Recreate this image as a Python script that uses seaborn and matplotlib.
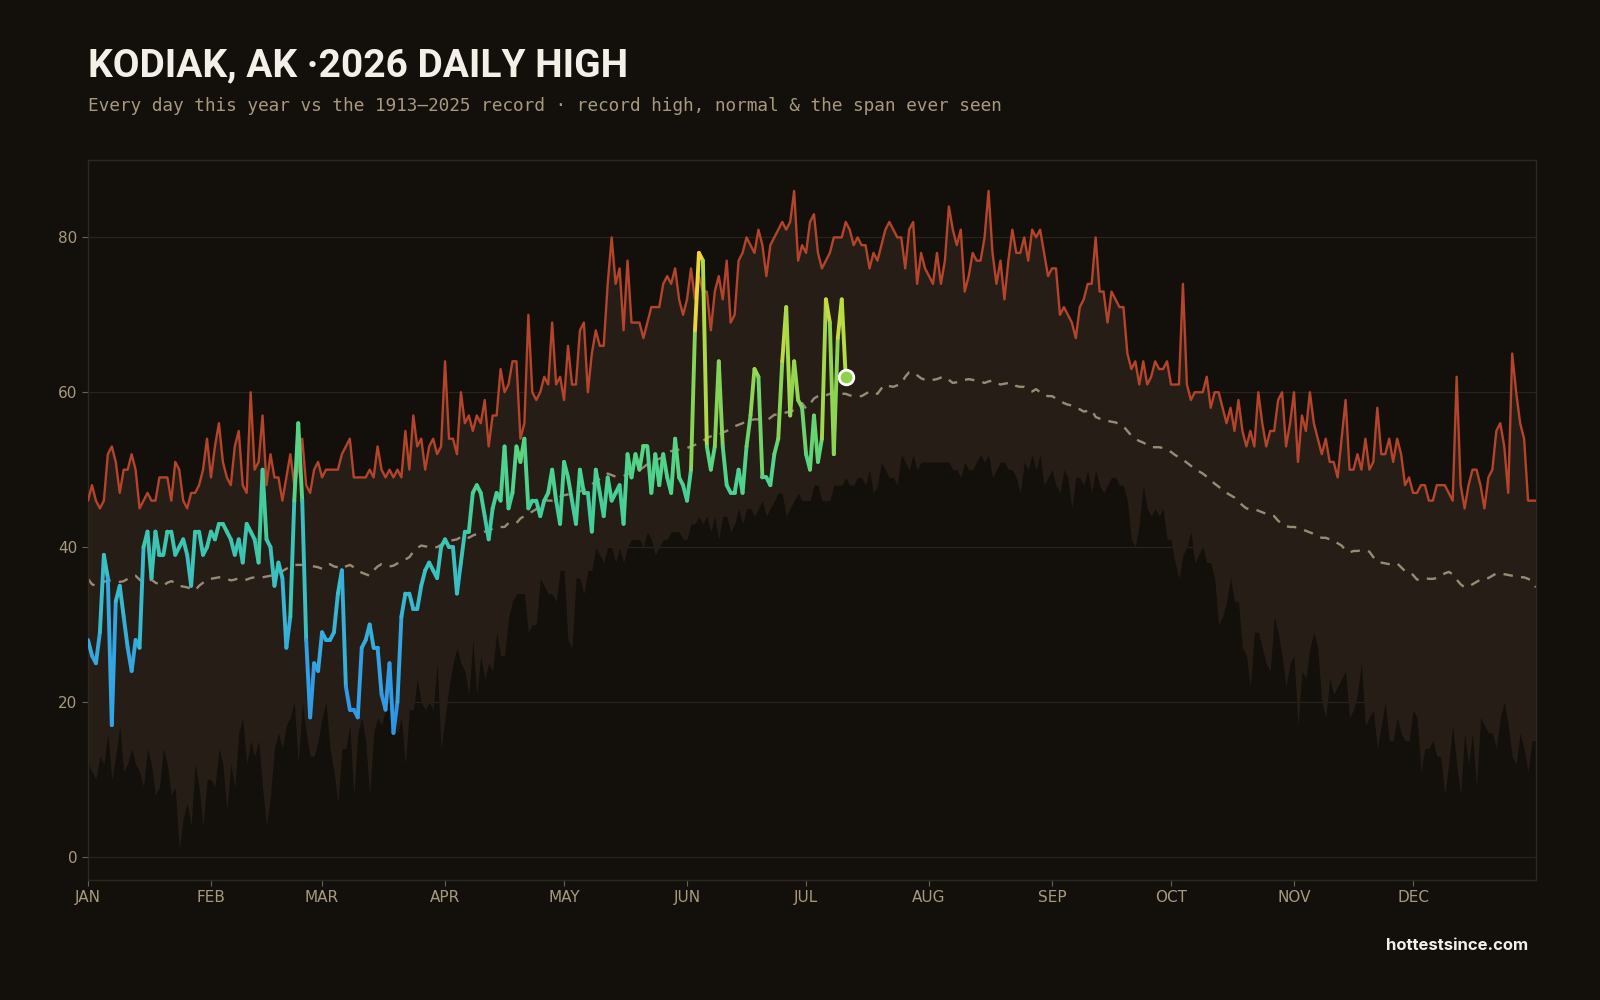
import numpy as np
import pandas as pd
import matplotlib
matplotlib.use("Agg")
import matplotlib.pyplot as plt
from matplotlib.collections import LineCollection
from matplotlib.colors import LinearSegmentedColormap, Normalize
import seaborn as sns

# month ticks (day of year where each month starts)
months = ["JAN", "FEB", "MAR", "APR", "MAY", "JUN", "JUL", "AUG", "SEP", "OCT", "NOV", "DEC"]
month_starts = [0, 31, 59, 90, 120, 151, 181, 212, 243, 273, 304, 334]

# record high of the daily high, 1913-2025 (F)
record_high = [
    46, 48, 46, 45, 46, 52, 53, 51, 47, 50, 50, 52, 50, 45, 46, 47, 46, 46, 49, 49,
    49, 46, 51, 50, 46, 45, 47, 47, 48, 50, 54, 49, 53, 56, 51, 49, 48, 53, 55, 48,
    47, 60, 50, 51, 57, 48, 52, 49, 49, 46, 49, 52, 48, 50, 54, 48, 47, 50, 51, 49,
    50, 50, 50, 50, 52, 53, 54, 49, 49, 49, 49, 50, 49, 53, 50, 49, 50, 49, 50, 49,
    55, 50, 57, 53, 54, 50, 53, 54, 52, 53, 64, 54, 54, 52, 60, 56, 57, 55, 57, 56,
    59, 53, 57, 57, 63, 60, 61, 64, 64, 54, 56, 70, 60, 59, 60, 62, 61, 69, 61, 62,
    59, 66, 61, 61, 68, 69, 60, 65, 68, 66, 66, 74, 80, 74, 76, 68, 77, 69, 69, 69,
    67, 69, 71, 71, 71, 74, 75, 74, 76, 72, 70, 72, 76, 72, 75, 73, 73, 68, 73, 75,
    72, 77, 69, 70, 77, 78, 80, 79, 78, 81, 79, 75, 79, 80, 81, 82, 81, 82, 86, 77,
    79, 78, 82, 83, 78, 76, 77, 78, 80, 80, 80, 82, 81, 79, 80, 79, 79, 76, 78, 77,
    79, 81, 82, 81, 80, 80, 76, 81, 82, 74, 78, 76, 75, 74, 78, 74, 77, 84, 81, 79,
    81, 73, 75, 78, 77, 77, 80, 86, 78, 74, 77, 72, 77, 81, 78, 78, 80, 77, 81, 80,
    81, 78, 75, 76, 76, 70, 71, 70, 69, 67, 71, 72, 74, 74, 80, 73, 73, 69, 73, 72,
    71, 71, 65, 63, 64, 61, 64, 61, 62, 64, 63, 63, 64, 61, 61, 61, 74, 61, 59, 60,
    60, 60, 62, 58, 60, 60, 58, 56, 58, 55, 59, 55, 53, 55, 53, 60, 56, 53, 55, 55,
    59, 60, 53, 56, 60, 51, 57, 55, 60, 56, 54, 52, 54, 51, 51, 49, 54, 59, 50, 50,
    52, 50, 54, 50, 51, 58, 52, 52, 54, 51, 54, 52, 48, 49, 47, 47, 48, 48, 46, 46,
    48, 48, 48, 47, 46, 62, 48, 45, 48, 50, 50, 48, 45, 49, 50, 55, 56, 53, 47, 65,
    60, 56, 54, 46, 46, 46,
]

# record low of the daily high (lower edge of the span ever seen)
record_low = [
    12, 11, 10, 13, 12, 16, 10, 13, 17, 11, 12, 14, 12, 11, 9, 14, 12, 8, 9, 14,
    12, 8, 9, 1, 5, 7, 4, 12, 9, 4, 10, 10, 9, 14, 12, 6, 12, 9, 16, 18,
    12, 15, 13, 15, 9, 4, 8, 14, 16, 14, 17, 18, 20, 12, 20, 16, 13, 13, 15, 18,
    20, 14, 11, 7, 14, 14, 17, 8, 16, 18, 15, 8, 16, 18, 17, 19, 21, 19, 16, 18,
    12, 19, 19, 23, 20, 19, 20, 19, 25, 14, 18, 22, 25, 27, 25, 24, 21, 28, 21, 26,
    23, 25, 24, 29, 26, 26, 31, 33, 34, 34, 34, 29, 30, 30, 36, 35, 34, 34, 33, 37,
    37, 28, 27, 36, 36, 34, 37, 37, 40, 39, 38, 40, 40, 38, 40, 38, 40, 41, 41, 41,
    40, 42, 41, 39, 40, 41, 41, 42, 42, 42, 41, 41, 43, 43, 44, 43, 44, 42, 44, 41,
    44, 44, 42, 43, 45, 43, 45, 45, 44, 45, 46, 44, 45, 46, 47, 47, 44, 45, 46, 47,
    46, 46, 46, 48, 48, 46, 46, 46, 48, 48, 48, 49, 48, 48, 49, 49, 48, 50, 47, 48,
    51, 50, 49, 49, 48, 52, 51, 50, 52, 50, 51, 51, 51, 51, 51, 51, 51, 51, 50, 50,
    49, 51, 50, 50, 51, 52, 51, 52, 49, 50, 51, 51, 50, 50, 49, 47, 51, 50, 52, 50,
    52, 48, 49, 50, 48, 47, 50, 49, 45, 49, 49, 48, 50, 47, 50, 48, 47, 48, 49, 49,
    48, 48, 46, 41, 40, 43, 48, 45, 44, 45, 44, 45, 41, 41, 38, 36, 39, 40, 42, 38,
    39, 40, 38, 38, 36, 30, 31, 33, 36, 33, 33, 27, 26, 22, 29, 29, 27, 25, 24, 31,
    29, 26, 22, 25, 26, 17, 24, 23, 27, 29, 27, 20, 18, 23, 21, 22, 23, 24, 18, 19,
    21, 25, 17, 18, 19, 14, 17, 20, 15, 15, 18, 16, 15, 15, 19, 18, 11, 14, 14, 15,
    13, 13, 8, 12, 17, 12, 8, 16, 12, 16, 9, 18, 17, 16, 16, 14, 18, 20, 17, 13,
    12, 16, 14, 11, 15, 15,
]

# normal daily high
normal = [
    35.9, 35.2, 35.0, 35.4, 35.5, 35.7, 35.7, 35.6, 35.5, 35.6, 35.9, 36.2, 36.3, 35.8, 35.4,
    35.6, 35.8, 35.4, 35.2, 35.0, 35.4, 35.6, 35.4, 35.0, 34.9, 34.8, 34.6, 34.4, 35.0, 35.4,
    35.8, 35.9, 36.0, 36.1, 36.0, 35.9, 35.7, 35.8, 36.0, 35.9, 35.8, 36.0, 36.1, 36.1, 36.1,
    36.2, 36.3, 36.5, 36.6, 36.9, 37.2, 37.5, 37.7, 37.7, 37.7, 37.7, 37.6, 37.5, 37.4, 37.2,
    37.5, 37.8, 37.5, 37.4, 37.2, 37.5, 37.7, 37.4, 37.0, 36.7, 36.5, 36.3, 37.0, 37.5, 37.8,
    37.6, 37.5, 37.6, 37.9, 38.1, 38.4, 38.7, 39.4, 39.9, 40.2, 40.1, 40.0, 39.9, 40.0, 40.3,
    40.6, 40.8, 40.9, 41.0, 41.3, 41.5, 41.2, 41.5, 41.7, 41.9, 42.0, 42.1, 42.4, 42.6, 42.6,
    42.6, 43.1, 43.1, 43.1, 43.7, 44.0, 44.3, 44.6, 44.9, 45.6, 46.1, 46.0, 46.0, 46.1, 46.5,
    46.7, 46.8, 46.9, 47.0, 47.2, 47.4, 47.8, 48.1, 48.5, 48.8, 49.1, 49.5, 49.3, 49.1, 49.1,
    49.2, 49.4, 49.6, 49.7, 50.0, 50.3, 50.7, 50.9, 51.2, 51.4, 51.7, 52.2, 52.4, 52.5, 52.6,
    52.7, 52.8, 53.0, 53.2, 53.4, 53.7, 54.1, 54.3, 54.4, 54.5, 54.8, 55.0, 55.3, 55.6, 55.8,
    56.0, 56.3, 56.4, 56.5, 56.5, 56.4, 56.3, 56.7, 57.1, 57.1, 57.2, 57.4, 57.5, 57.7, 58.2,
    58.6, 57.9, 58.5, 59.2, 59.5, 59.7, 59.6, 59.8, 60.1, 60.0, 59.8, 59.8, 59.6, 59.5, 59.5,
    59.5, 59.8, 60.1, 59.9, 59.8, 60.5, 61.0, 60.8, 60.7, 60.9, 61.1, 62.0, 62.6, 62.6, 62.2,
    61.8, 61.6, 61.5, 61.6, 61.7, 61.9, 62.0, 61.6, 61.2, 61.3, 61.5, 61.6, 61.7, 61.6, 61.5,
    61.4, 61.2, 61.4, 61.5, 61.2, 61.0, 61.1, 61.2, 61.2, 60.8, 60.7, 60.7, 60.3, 60.1, 60.4,
    60.0, 59.6, 59.5, 59.5, 59.2, 58.9, 58.6, 58.4, 58.3, 58.0, 57.8, 57.5, 57.6, 57.7, 56.8,
    56.6, 56.5, 56.3, 56.2, 56.1, 55.9, 55.6, 55.0, 54.4, 54.0, 53.7, 53.5, 53.2, 52.9, 52.9,
    52.9, 52.8, 52.5, 52.3, 51.9, 51.6, 51.3, 50.9, 50.5, 50.1, 49.8, 49.5, 49.1, 48.6, 48.2,
    47.8, 47.4, 47.0, 46.7, 46.4, 45.9, 45.4, 45.0, 44.9, 44.9, 44.7, 44.5, 44.3, 44.1, 44.0,
    43.4, 43.0, 42.7, 42.6, 42.6, 42.5, 42.3, 42.1, 41.9, 41.7, 41.4, 41.2, 41.2, 41.0, 40.9,
    40.5, 40.2, 39.6, 39.3, 39.5, 39.5, 39.6, 39.6, 39.4, 38.7, 38.1, 38.0, 37.9, 37.8, 37.8,
    37.9, 37.4, 36.9, 36.8, 36.4, 35.8, 35.9, 36.0, 35.9, 35.9, 36.0, 36.3, 36.6, 36.8, 36.5,
    35.8, 35.2, 34.8, 34.9, 35.2, 35.5, 35.8, 36.0, 36.0, 36.3, 36.6, 36.6, 36.5, 36.4, 36.3,
    36.2, 36.1, 36.1, 35.9, 35.6, 34.8,
]

# 2026 daily highs so far (Jan 1 .. Jul 11)
this_year = [
    28, 26, 25, 29, 39, 36, 17, 33, 35, 31, 27, 24, 28, 27, 40, 42, 36, 42, 39, 39,
    42, 42, 39, 40, 41, 39, 35, 42, 42, 39, 40, 42, 41, 43, 43, 42, 41, 39, 41, 38,
    43, 42, 41, 38, 50, 41, 40, 35, 38, 36, 27, 31, 46, 56, 46, 28, 18, 25, 24, 29,
    28, 28, 29, 34, 37, 22, 19, 19, 18, 27, 28, 30, 27, 27, 21, 19, 25, 16, 20, 31,
    34, 34, 32, 32, 35, 37, 38, 37, 36, 40, 41, 40, 40, 34, 38, 42, 42, 47, 48, 47,
    44, 41, 45, 47, 46, 53, 45, 47, 53, 51, 54, 45, 46, 46, 44, 46, 47, 50, 46, 43,
    51, 49, 46, 43, 50, 47, 47, 42, 50, 47, 44, 49, 46, 47, 48, 43, 52, 49, 52, 50,
    53, 53, 47, 52, 48, 52, 49, 47, 54, 49, 48, 46, 50, 68, 78, 77, 53, 50, 53, 64,
    53, 48, 47, 47, 50, 47, 53, 57, 63, 62, 49, 49, 48, 52, 54, 64, 71, 57, 64, 59,
    58, 52, 50, 57, 51, 54, 72, 69, 52, 67, 72, 62,
]

BG = "#13100c"
BAND = "#261e16"
RED = "#b4442a"
NORMAL_C = "#a59780"
GRID = "#2a231c"
TICK_TXT = "#a8997e"

sns.set_theme(style="dark", rc={
    "axes.facecolor": BG,
    "figure.facecolor": BG,
    "axes.edgecolor": "#2e2720",
    "grid.color": GRID,
})
plt.rcParams["font.family"] = ["DejaVu Sans"]

days = np.arange(len(record_high))
df = pd.DataFrame({"day": days, "record_high": record_high,
                   "record_low": record_low, "normal": normal})
cur = pd.DataFrame({"day": np.arange(len(this_year)), "high": this_year})

fig = plt.figure(figsize=(16, 10), dpi=100)
ax = fig.add_axes([0.055, 0.12, 0.905, 0.72])

# span ever seen
ax.fill_between(df["day"], df["record_low"], df["record_high"], color=BAND, lw=0, zorder=1)

sns.lineplot(data=df, x="day", y="normal", ax=ax, color=NORMAL_C, lw=1.7,
             linestyle=(0, (4, 3.5)), alpha=0.9, zorder=2)
sns.lineplot(data=df, x="day", y="record_high", ax=ax, color=RED, lw=1.7, zorder=3)

# this year: each day-to-day segment gets one colour from its temperature
cmap = LinearSegmentedColormap.from_list("temps", [
    (0.0, "#2e8de8"), (0.15, "#33a4e4"), (0.31, "#38bfca"), (0.42, "#3dc9a8"),
    (0.54, "#50d48a"), (0.66, "#7fd35a"), (0.78, "#b2dc45"), (0.85, "#c8dc3c"),
    (0.89, "#ecd63c"), (1.0, "#f5d03a")])
norm = Normalize(15, 80)
pts = cur[["day", "high"]].to_numpy(float)
segs = np.stack([pts[:-1], pts[1:]], axis=1)
seg_vals = (pts[:-1, 1] + pts[1:, 1]) / 2
lc = LineCollection(segs, cmap=cmap, norm=norm, linewidths=2.8,
                    capstyle="round", joinstyle="round", zorder=4)
lc.set_array(seg_vals)
ax.add_collection(lc)

last = cur.iloc[[-1]]
sns.scatterplot(data=last, x="day", y="high", ax=ax, s=110, color="#8fd14f",
                edgecolor="white", linewidth=2, zorder=5)

ax.set_xlim(0, 365)
ax.set_ylim(-3, 90)
ax.set_xticks(month_starts, months)
ax.set_yticks([0, 20, 40, 60, 80])
ax.set_xlabel("")
ax.set_ylabel("")
ax.grid(axis="y", color=GRID, lw=0.9)
ax.grid(axis="x", visible=False)
ax.tick_params(axis="both", colors=TICK_TXT, labelsize=11, length=4, width=0.8,
               bottom=True, left=True)
ax.tick_params(axis="both", which="major", color="#6b5f4d")
for sp in ax.spines.values():
    sp.set_color("#2e2720")
    sp.set_linewidth(1)

fig.text(0.055, 0.924, "KODIAK, AK ·2026 DAILY HIGH", fontsize=28, fontweight="bold",
         color="#f4f0e8", family=["Roboto", "DejaVu Sans"], va="baseline")
fig.text(0.055, 0.889,
         "Every day this year vs the 1913\u20132025 record \u00b7 record high, normal & the span ever seen",
         fontsize=12.75, color=TICK_TXT, family=["DejaVu Sans Mono"], va="baseline")
fig.text(0.955, 0.05, "hottestsince.com", ha="right", va="baseline", fontsize=12,
         fontweight="bold", color="#f4f0e8", family=["Inter", "DejaVu Sans"])

fig.savefig("out.png", dpi=100, facecolor=BG)
